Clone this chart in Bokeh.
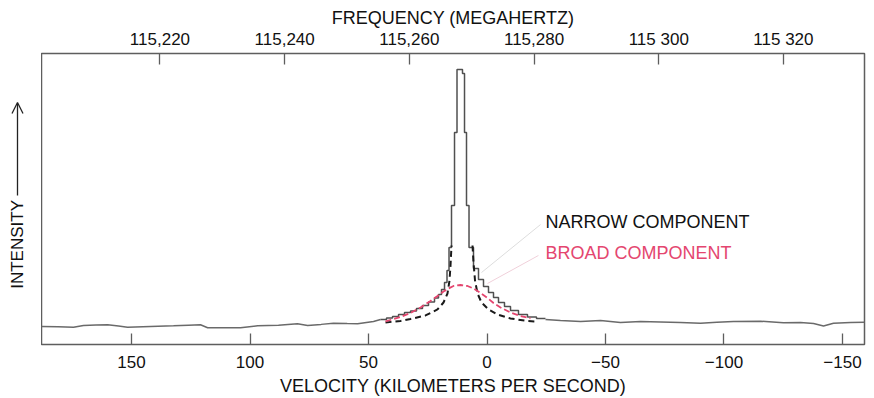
from bokeh.plotting import figure
from bokeh.layouts import row
from bokeh.models import Range1d, LinearAxis, FixedTicker, Label, Arrow, OpenHead
from bokeh.embed import file_html
from bokeh.resources import INLINE

# ---------------- data (velocity km/s, intensity arbitrary units) ----------------
vel_ticks = [150, 100, 50, 0, -50, -100, -150]
vel_labels = ["150", "100", "50", "0", "\u221250", "\u2212100", "\u2212150"]
freq_ticks = [115220, 115240, 115260, 115280, 115300, 115320]
freq_labels = ["115,220", "115,240", "115,260", "115,280", "115 300", "115 320"]

vel_view = (188.0, -159.3)
freq_view = (115201.0, 115333.0)
int_view = (-6.6, 106.2)

# baseline wing (positive velocities)
wing_left_v = [188.0, 181.0, 174.5, 170.3, 165.0, 160.1, 155.5, 151.7, 142.0, 132.3,
               126.0, 120.9, 117.9, 110.0, 104.0, 96.8, 88.0, 80.0, 75.7, 70.0,
               64.8, 59.0, 54.6, 47.9, 44.94]
wing_left_i = [0.39, 0.25, 0.10, 0.78, 0.95, 1.05, 0.55, 0.10, 0.40, 0.66,
               0.90, 1.05, -0.10, -0.15, -0.10, 0.66, 0.90, 1.43, 0.78, 1.20,
               1.67, 1.50, 1.43, 2.33, 3.10]

# line core: channel edges and channel intensities (step profile)
core_edges = [44.94, 42.41, 39.87, 37.34, 34.81, 32.28, 29.75, 27.22, 24.68, 22.15,
              20.46, 19.20, 17.93, 16.88, 16.03, 14.98, 13.71, 12.66, 10.34, 9.49,
              8.65, 7.59, 5.70, 3.59, 1.48, -0.63, -2.74, -4.85, -7.38, -9.92,
              -13.29, -17.09, -20.89, -24.68]
core_vals = [3.10, 3.68, 4.26, 5.04, 5.81, 6.40, 7.36, 8.53, 9.88, 11.43,
             12.79, 14.73, 17.44, 22.09, 31.0, 47.3, 75.6, 100.0, 98.4, 75.6,
             47.3, 31.0, 22.9, 18.6, 15.9, 13.6, 11.6, 9.7, 8.1, 6.6,
             5.0, 4.1, 3.5]

# baseline wing (negative velocities)
wing_right_v = [-24.68, -31.0, -39.5, -47.9, -56.3, -64.8, -73.2, -81.6, -90.1, -97.0,
                -104.0, -115.4, -125.1, -132.3, -137.8, -142.0, -146.2, -153.4, -159.3]
wing_right_i = [3.10, 2.71, 2.33, 2.71, 1.94, 2.33, 2.13, 1.94, 1.67, 2.00,
                2.33, 2.44, 1.82, 1.94, 1.55, 0.58, 1.67, 1.94, 2.05]

# fitted components
narrow_left_v = [42.83, 36.50, 32.28, 25.95, 20.89, 18.35, 16.67, 15.82, 15.40, 14.98]
narrow_left_i = [1.94, 2.52, 3.29, 4.65, 6.98, 9.69, 13.18, 18.22, 24.03, 31.78]
narrow_right_v = [6.12, 5.70, 5.06, 4.01, 2.32, -0.63, -4.43, -9.92, -17.09, -20.46]
narrow_right_i = [31.78, 25.19, 18.22, 13.18, 9.69, 6.98, 5.04, 3.49, 2.52, 2.33]

broad_v = [42.83, 36.50, 32.28, 28.06, 23.84, 20.89, 18.35, 16.24, 14.14, 11.18,
           8.23, 5.70, 2.74, -0.21, -2.74, -5.70, -9.92, -14.14, -18.35]
broad_i = [2.33, 4.07, 5.62, 7.75, 10.27, 12.21, 13.95, 15.12, 16.09, 16.47,
           16.09, 15.12, 13.37, 11.43, 9.50, 7.75, 5.81, 4.46, 3.49]

# ---------------- styling ----------------
FONT = "Liberation Sans"
GREY = "#5e5e5e"
PINK = "#e4466f"
INK = "#111111"

p = figure(width=833, height=398,
           x_range=Range1d(*vel_view), y_range=Range1d(*int_view),
           output_backend="svg", toolbar_location=None, y_axis_location=None,
           min_border_left=0, min_border_right=10, min_border_top=53, min_border_bottom=54)
p.extra_x_ranges = {"freq": Range1d(*freq_view)}
p.grid.visible = False
p.outline_line_color = GREY
p.outline_line_width = 1.5
p.background_fill_color = "white"
p.border_fill_color = "white"

def style_axis(ax, ticks, labels, title, standoff, title_standoff):
    ax.ticker = FixedTicker(ticks=ticks)
    ax.major_label_overrides = dict(zip(ticks, labels))
    ax.axis_label = title
    ax.axis_line_color = None
    ax.major_tick_in = 11
    ax.major_tick_out = 0
    ax.major_tick_line_color = GREY
    ax.major_tick_line_width = 1.3
    ax.minor_tick_line_color = None
    ax.major_label_text_font = FONT
    ax.major_label_text_font_size = "17px"
    ax.major_label_text_color = INK
    ax.major_label_standoff = standoff
    ax.axis_label_text_font = FONT
    ax.axis_label_text_font_size = "18px"
    ax.axis_label_text_font_style = "normal"
    ax.axis_label_text_color = INK
    ax.axis_label_standoff = title_standoff

style_axis(p.xaxis[0], vel_ticks, vel_labels, "VELOCITY (KILOMETERS PER SECOND)", 11, 5)
top = LinearAxis(x_range_name="freq")
style_axis(top, freq_ticks, freq_labels, "FREQUENCY (MEGAHERTZ)", 5, -1)
p.add_layout(top, "above")

# observed spectrum
p.line(wing_left_v, wing_left_i, line_color="#6a6a6a", line_width=1.5)
p.step(core_edges, core_vals + [core_vals[-1]], mode="after",
       line_color="#505050", line_width=1.5)
p.line(wing_right_v, wing_right_i, line_color="#6a6a6a", line_width=1.5)

# components
p.line(narrow_left_v, narrow_left_i, line_color="#1a1a1a", line_width=2, line_dash="6 4")
p.line(narrow_right_v, narrow_right_i, line_color="#1a1a1a", line_width=2, line_dash="6 4")
p.line(broad_v, broad_i, line_color=PINK, line_width=1.8, line_dash="6 3")

# leader lines and labels
p.line([-22.6, 2.32], [39.9, 21.3], line_color="#dddddd", line_width=1)
p.line([-21.7, -0.21], [27.9, 17.05], line_color="#f0d0da", line_width=1)
p.add_layout(Label(x=-24.68, y=40.7, text="NARROW COMPONENT", text_font=FONT,
                   text_font_size="18px", text_color=INK, text_baseline="middle"))
p.add_layout(Label(x=-24.68, y=28.7, text="BROAD COMPONENT", text_font=FONT,
                   text_font_size="18px", text_color=PINK, text_baseline="middle"))

# left strip: intensity title with arrow
side = figure(width=41, height=398, x_range=Range1d(0, 41), y_range=Range1d(*int_view),
              output_backend="svg", toolbar_location=None,
              x_axis_location=None, y_axis_location=None,
              min_border_left=0, min_border_right=0, min_border_top=53, min_border_bottom=54)
side.grid.visible = False
side.outline_line_color = None
side.background_fill_color = "white"
side.border_fill_color = "white"
side.add_layout(Label(x=17, y=32.2, text="INTENSITY", angle=1.5708, text_font=FONT,
                      text_font_size="17px", text_color=INK,
                      text_align="center", text_baseline="middle"))
side.add_layout(Arrow(x_start=17, y_start=51.2, x_end=17, y_end=87.2,
                      line_color="#222222", line_width=1.3,
                      end=OpenHead(size=11, line_color="#222222", line_width=1.3)))

layout = row(side, p)
open("out.html", "w").write(file_html(layout, INLINE))
